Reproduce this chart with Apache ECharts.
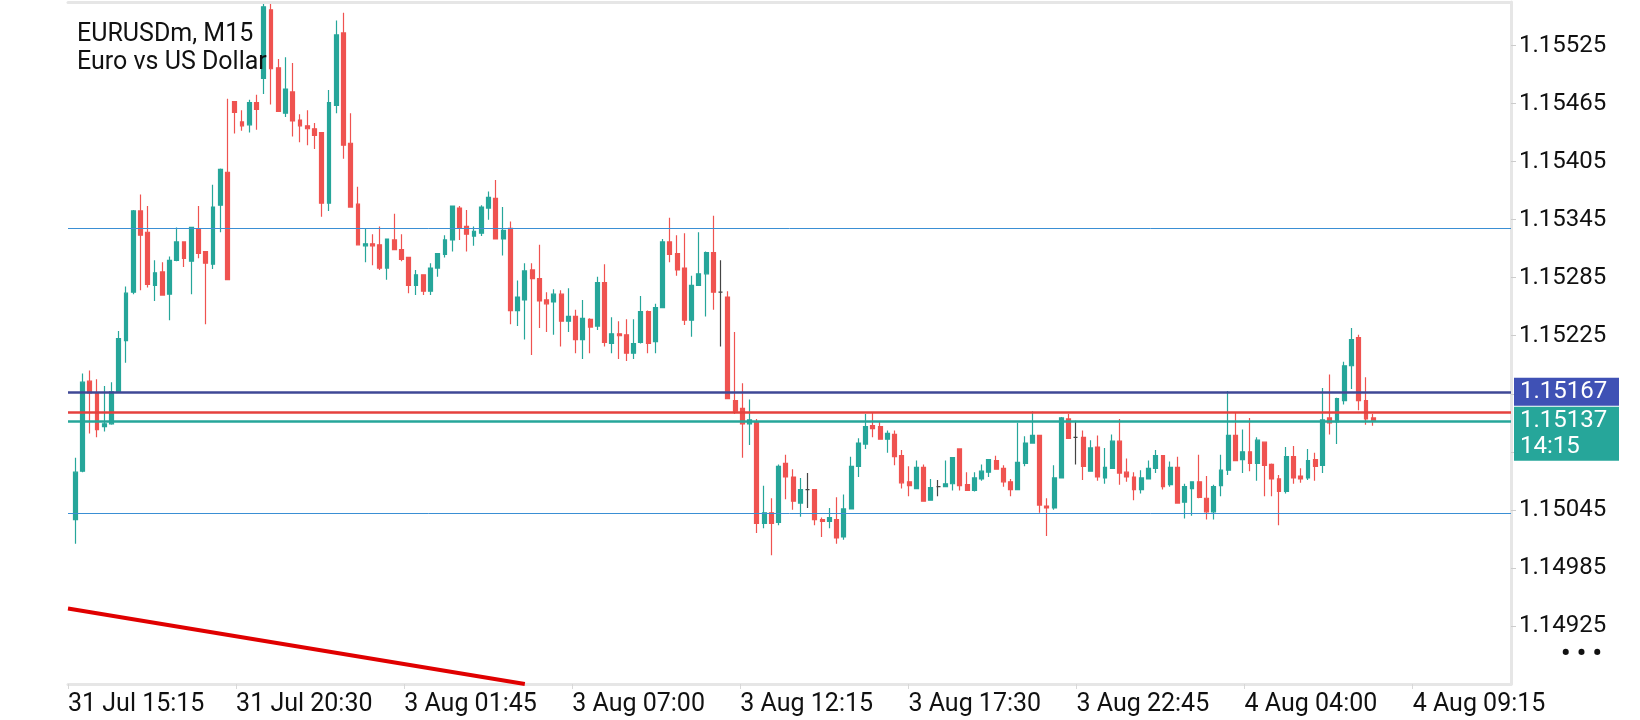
<!DOCTYPE html>
<html>
<head>
<meta charset="utf-8">
<title>EURUSDm, M15</title>
<script src="https://cdn.jsdelivr.net/npm/echarts@6/dist/echarts.min.js"></script>
<style>
	html, body { margin: 0; padding: 0; background: #fff; }
	#chart { width: 1640px; height: 720px; }
</style>
</head>
<body>
<div id="chart"></div>
<script>
// M15 bars, oldest first
const opens = [
	1.15035, 1.15085, 1.15178, 1.15166, 1.15131, 1.15134, 1.15167, 1.15220, 1.15270, 1.15354,
	1.15332, 1.15277, 1.15291, 1.15268, 1.15303, 1.15322, 1.15302, 1.15335, 1.15312, 1.15299,
	1.15360, 1.15394, 1.15467, 1.15446, 1.15443, 1.15466, 1.15491, 1.15562, 1.15502, 1.15455,
	1.15477, 1.15448, 1.15442, 1.15439, 1.15435, 1.15362, 1.15463, 1.15538, 1.15424, 1.15361,
	1.15318, 1.15320, 1.15319, 1.15295, 1.15324, 1.15314, 1.15306, 1.15277, 1.15288, 1.15271,
	1.15295, 1.15309, 1.15324, 1.15357, 1.15338, 1.15328, 1.15331, 1.15357, 1.15367, 1.15325,
	1.15336, 1.15251, 1.15262, 1.15293, 1.15284, 1.15262, 1.15260, 1.15268, 1.15240, 1.15245,
	1.15221, 1.15242, 1.15235, 1.15280, 1.15217, 1.15227, 1.15226, 1.15207, 1.15218, 1.15250,
	1.15219, 1.15254, 1.15322, 1.15310, 1.15295, 1.15241, 1.15277, 1.15289, 1.15311, 1.15270,
	1.15265, 1.15158, 1.15150, 1.15134, 1.15136, 1.15031, 1.15042, 1.15032, 1.15093, 1.15079,
	1.15052, 1.15066, 1.15066, 1.15035, 1.15033, 1.15035, 1.15017, 1.15046, 1.15090, 1.15113,
	1.15132, 1.15131, 1.15118, 1.15123, 1.15101, 1.15074, 1.15067, 1.15089, 1.15055, 1.15069,
	1.15069, 1.15072, 1.15108, 1.15071, 1.15065, 1.15077, 1.15084, 1.15096, 1.15088, 1.15074,
	1.15066, 1.15093, 1.15114, 1.15122, 1.15049, 1.15047, 1.15078, 1.15139, 1.15120, 1.15120,
	1.15085, 1.15110, 1.15078, 1.15088, 1.15116, 1.15084, 1.15079, 1.15066, 1.15077, 1.15088,
	1.15101, 1.15071, 1.15089, 1.15053, 1.15067, 1.15074, 1.15057, 1.15043, 1.15070, 1.15086,
	1.15122, 1.15097, 1.15105, 1.15093, 1.15115, 1.15092, 1.15077, 1.15064, 1.15100, 1.15080,
	1.15078, 1.15097, 1.15091, 1.15140, 1.15136, 1.15158, 1.15194, 1.15223, 1.15158, 1.15140
]
const highs = [
	1.15099, 1.15186, 1.15189, 1.15180, 1.15173, 1.15177, 1.15230, 1.15276, 1.15355, 1.15371,
	1.15359, 1.15303, 1.15301, 1.15307, 1.15337, 1.15322, 1.15337, 1.15359, 1.15312, 1.15381,
	1.15398, 1.15470, 1.15467, 1.15458, 1.15469, 1.15474, 1.15568, 1.15568, 1.15511, 1.15513,
	1.15507, 1.15454, 1.15458, 1.15445, 1.15435, 1.15479, 1.15551, 1.15559, 1.15455, 1.15379,
	1.15336, 1.15330, 1.15338, 1.15325, 1.15351, 1.15330, 1.15306, 1.15293, 1.15288, 1.15300,
	1.15310, 1.15329, 1.15359, 1.15359, 1.15355, 1.15338, 1.15360, 1.15374, 1.15386, 1.15358,
	1.15343, 1.15282, 1.15300, 1.15300, 1.15319, 1.15270, 1.15273, 1.15272, 1.15274, 1.15252,
	1.15262, 1.15243, 1.15286, 1.15299, 1.15244, 1.15240, 1.15242, 1.15242, 1.15266, 1.15251,
	1.15258, 1.15325, 1.15347, 1.15329, 1.15331, 1.15287, 1.15332, 1.15312, 1.15349, 1.15303,
	1.15271, 1.15229, 1.15176, 1.15159, 1.15139, 1.15070, 1.15057, 1.15092, 1.15102, 1.15087,
	1.15078, 1.15083, 1.15066, 1.15037, 1.15047, 1.15058, 1.15061, 1.15100, 1.15119, 1.15144,
	1.15146, 1.15136, 1.15127, 1.15127, 1.15107, 1.15090, 1.15096, 1.15092, 1.15077, 1.15076,
	1.15096, 1.15099, 1.15108, 1.15084, 1.15084, 1.15092, 1.15097, 1.15101, 1.15091, 1.15077,
	1.15135, 1.15121, 1.15147, 1.15122, 1.15057, 1.15091, 1.15141, 1.15144, 1.15137, 1.15127,
	1.15117, 1.15122, 1.15109, 1.15123, 1.15139, 1.15098, 1.15084, 1.15086, 1.15096, 1.15107,
	1.15101, 1.15095, 1.15100, 1.15072, 1.15074, 1.15102, 1.15080, 1.15071, 1.15102, 1.15168,
	1.15146, 1.15128, 1.15140, 1.15120, 1.15115, 1.15093, 1.15081, 1.15110, 1.15111, 1.15088,
	1.15108, 1.15104, 1.15171, 1.15185, 1.15161, 1.15198, 1.15233, 1.15226, 1.15182, 1.15144
]
const lows = [
	1.15010, 1.15084, 1.15124, 1.15120, 1.15126, 1.15133, 1.15166, 1.15197, 1.15268, 1.15272,
	1.15275, 1.15261, 1.15267, 1.15241, 1.15302, 1.15296, 1.15268, 1.15305, 1.15237, 1.15294,
	1.15332, 1.15283, 1.15434, 1.15437, 1.15435, 1.15438, 1.15475, 1.15464, 1.15457, 1.15451,
	1.15431, 1.15425, 1.15422, 1.15418, 1.15348, 1.15354, 1.15455, 1.15408, 1.15358, 1.15319,
	1.15301, 1.15298, 1.15293, 1.15283, 1.15314, 1.15302, 1.15269, 1.15267, 1.15267, 1.15267,
	1.15286, 1.15306, 1.15312, 1.15324, 1.15312, 1.15318, 1.15328, 1.15345, 1.15325, 1.15308,
	1.15237, 1.15235, 1.15221, 1.15205, 1.15233, 1.15229, 1.15226, 1.15214, 1.15229, 1.15207,
	1.15201, 1.15207, 1.15231, 1.15214, 1.15207, 1.15201, 1.15199, 1.15201, 1.15217, 1.15207,
	1.15207, 1.15254, 1.15301, 1.15287, 1.15236, 1.15224, 1.15277, 1.15245, 1.15252, 1.15214,
	1.15160, 1.15144, 1.15099, 1.15112, 1.15021, 1.15026, 1.14998, 1.15029, 1.15056, 1.15045,
	1.15038, 1.15047, 1.15029, 1.15017, 1.15026, 1.15010, 1.15014, 1.15046, 1.15079, 1.15108,
	1.15120, 1.15118, 1.15104, 1.15091, 1.15067, 1.15059, 1.15067, 1.15054, 1.15055, 1.15059,
	1.15069, 1.15065, 1.15065, 1.15065, 1.15064, 1.15075, 1.15079, 1.15087, 1.15069, 1.15059,
	1.15066, 1.15090, 1.15114, 1.15042, 1.15018, 1.15045, 1.15078, 1.15119, 1.15092, 1.15076,
	1.15085, 1.15075, 1.15072, 1.15088, 1.15071, 1.15074, 1.15055, 1.15062, 1.15077, 1.15083,
	1.15066, 1.15069, 1.15052, 1.15036, 1.15039, 1.15057, 1.15035, 1.15035, 1.15059, 1.15081,
	1.15096, 1.15083, 1.15085, 1.15075, 1.15059, 1.15059, 1.15029, 1.15062, 1.15072, 1.15073,
	1.15076, 1.15075, 1.15083, 1.15123, 1.15113, 1.15154, 1.15170, 1.15148, 1.15133, 1.15132
]
const closes = [
	1.15084, 1.15177, 1.15166, 1.15128, 1.15134, 1.15167, 1.15222, 1.15269, 1.15354, 1.15329,
	1.15278, 1.15290, 1.15267, 1.15303, 1.15322, 1.15305, 1.15337, 1.15310, 1.15300, 1.15358,
	1.15397, 1.15283, 1.15456, 1.15442, 1.15466, 1.15459, 1.15565, 1.15501, 1.15457, 1.15480,
	1.15447, 1.15442, 1.15439, 1.15432, 1.15362, 1.15466, 1.15536, 1.15422, 1.15358, 1.15319,
	1.15320, 1.15318, 1.15295, 1.15325, 1.15314, 1.15304, 1.15277, 1.15288, 1.15271, 1.15295,
	1.15310, 1.15324, 1.15359, 1.15336, 1.15330, 1.15333, 1.15358, 1.15368, 1.15325, 1.15334,
	1.15251, 1.15265, 1.15292, 1.15284, 1.15261, 1.15258, 1.15268, 1.15240, 1.15245, 1.15221,
	1.15243, 1.15234, 1.15280, 1.15218, 1.15227, 1.15225, 1.15207, 1.15217, 1.15250, 1.15217,
	1.15254, 1.15322, 1.15309, 1.15293, 1.15241, 1.15277, 1.15289, 1.15311, 1.15270, 1.15270,
	1.15160, 1.15147, 1.15134, 1.15138, 1.15031, 1.15042, 1.15031, 1.15090, 1.15079, 1.15054,
	1.15066, 1.15066, 1.15035, 1.15033, 1.15037, 1.15016, 1.15046, 1.15090, 1.15114, 1.15131,
	1.15129, 1.15118, 1.15124, 1.15100, 1.15073, 1.15070, 1.15089, 1.15054, 1.15068, 1.15069,
	1.15072, 1.15099, 1.15070, 1.15065, 1.15078, 1.15085, 1.15097, 1.15087, 1.15074, 1.15066,
	1.15094, 1.15114, 1.15122, 1.15050, 1.15047, 1.15078, 1.15140, 1.15119, 1.15120, 1.15090,
	1.15109, 1.15079, 1.15089, 1.15116, 1.15083, 1.15079, 1.15066, 1.15078, 1.15088, 1.15101,
	1.15069, 1.15089, 1.15052, 1.15069, 1.15074, 1.15058, 1.15043, 1.15069, 1.15086, 1.15122,
	1.15096, 1.15105, 1.15093, 1.15117, 1.15091, 1.15077, 1.15064, 1.15100, 1.15078, 1.15077,
	1.15096, 1.15090, 1.15138, 1.15135, 1.15160, 1.15194, 1.15221, 1.15158, 1.15139, 1.15137
]

const timeLabels = [
	'31 Jul 15:15', '31 Jul 20:30', '3 Aug 01:45', '3 Aug 07:00', '3 Aug 12:15',
	'3 Aug 17:30', '3 Aug 22:45', '4 Aug 04:00', '4 Aug 09:15'
]
const priceLevels = [1.15336, 1.15042]
const alertPrice = 1.15167
const askPrice = 1.15146
const bidPrice = 1.15137
const barCountdown = '14:15'
// trend line anchors: [bar slot, price]
const trendLine = [[0, 1.14943], [63, 1.14865]]

const slotCount = 200 // one blank slot before the bars, empty space after
const labelStep = 23.18 // bars between time labels

const upColor = '#26a69a'
const downColor = '#ef5350'
const dojiColor = '#444444'
const frameColor = '#e6e6e6'
const font = 'Roboto, "Noto Sans", sans-serif'

const slots = []
for (let i = 0; i < slotCount; i++) {
	slots.push(String(i))
}

const candles = [['-', '-', '-', '-']]
for (let i = 0; i < opens.length; i++) {
	let item = { value: [opens[i], closes[i], lows[i], highs[i]] }
	if (opens[i] === closes[i]) {
		item.itemStyle = { color: dojiColor, borderColor: dojiColor }
	}
	candles.push(item)
}

// horizontal line across the whole plot, from first to last slot
const flatLine = function(price, color, width, label) {
	return [
		{
			coord: [0, price],
			lineStyle: { color: color, width: width, type: 'solid' },
			label: label || { show: false }
		},
		{ coord: [slotCount - 1, price] }
	]
}

const priceBox = function(text, bg, offsetY) {
	return {
		show: true,
		position: 'end',
		distance: 3,
		formatter: text,
		backgroundColor: bg,
		color: '#fff',
		fontFamily: font,
		fontSize: 24,
		lineHeight: 26,
		width: 93,
		padding: [1, 6, 1, 6],
		offset: [0, offsetY]
	}
}

const markLines = [
	flatLine(priceLevels[0], '#3a8fd4', 1),
	flatLine(priceLevels[1], '#3a8fd4', 1),
	flatLine(askPrice, '#e5413e', 2.5),
	flatLine(bidPrice, upColor, 2.5, priceBox(bidPrice.toFixed(5) + '\n' + barCountdown, upColor, 13)),
	flatLine(alertPrice, '#3f4896', 2.5, priceBox(alertPrice.toFixed(5), '#3f51b5', 0)),
	[
		{ coord: trendLine[0], lineStyle: { color: '#e00000', width: 4, type: 'solid' }, label: { show: false } },
		{ coord: trendLine[1] }
	]
]

const option = {
	animation: false,
	backgroundColor: '#ffffff',
	textStyle: { fontFamily: font },
	title: [
		{
			text: 'EURUSDm, M15\nEuro vs US Dollar',
			left: 77,
			top: 21,
			padding: 0,
			textStyle: { fontFamily: font, fontSize: 25, fontWeight: 'normal', color: '#111', lineHeight: 28 }
		},
		{
			text: '• • •',
			left: 1561,
			top: 641,
			padding: 0,
			textStyle: { fontFamily: font, fontSize: 26, fontWeight: 'bold', color: '#111' }
		}
	],
	grid: { left: 68, right: 129, top: 2, bottom: 36 },
	xAxis: [
		{
			type: 'category',
			data: slots,
			boundaryGap: false,
			show: false
		},
		{
			type: 'value',
			position: 'bottom',
			min: 0,
			max: slotCount - 1,
			interval: labelStep,
			axisLine: { show: true, onZero: false, lineStyle: { color: frameColor, width: 3 } },
			axisTick: { show: true, length: 5, lineStyle: { color: '#d8d8d8', width: 1 } },
			splitLine: { show: false },
			axisLabel: {
				show: true,
				align: 'left',
				margin: 8,
				fontFamily: font,
				fontSize: 25,
				color: '#111',
				showMaxLabel: false,
				formatter: function(v) {
					return timeLabels[Math.round(v / labelStep)] || ''
				}
			}
		},
		{
			type: 'value',
			position: 'top',
			min: 0,
			max: 1,
			axisLine: { show: true, onZero: false, lineStyle: { color: frameColor, width: 3 } },
			axisTick: { show: false },
			axisLabel: { show: false },
			splitLine: { show: false }
		}
	],
	yAxis: {
		type: 'value',
		position: 'right',
		min: 1.14865,
		max: 1.1557,
		interval: 0.0006,
		axisLine: { show: true, onZero: false, lineStyle: { color: frameColor, width: 3 } },
		axisTick: { show: true, length: 5, lineStyle: { color: '#cccccc', width: 1 } },
		splitLine: { show: false },
		axisLabel: {
			show: true,
			margin: 8,
			fontFamily: font,
			fontSize: 24,
			color: '#111',
			showMinLabel: false,
			showMaxLabel: false,
			formatter: function(v) {
				return v.toFixed(5)
			}
		}
	},
	series: [
		{
			type: 'candlestick',
			name: 'EURUSDm',
			data: candles,
			barWidth: '60%',
			itemStyle: {
				color: upColor,
				color0: downColor,
				borderColor: upColor,
				borderColor0: downColor,
				borderColorDoji: dojiColor,
				borderWidth: 1.2
			},
			markLine: {
				silent: true,
				symbol: ['none', 'none'],
				animation: false,
				data: markLines
			}
		}
	]
}

let chart = echarts.init(document.getElementById('chart'))
chart.setOption(option)
window.addEventListener('resize', chart.resize)
</script>
</body>
</html>
